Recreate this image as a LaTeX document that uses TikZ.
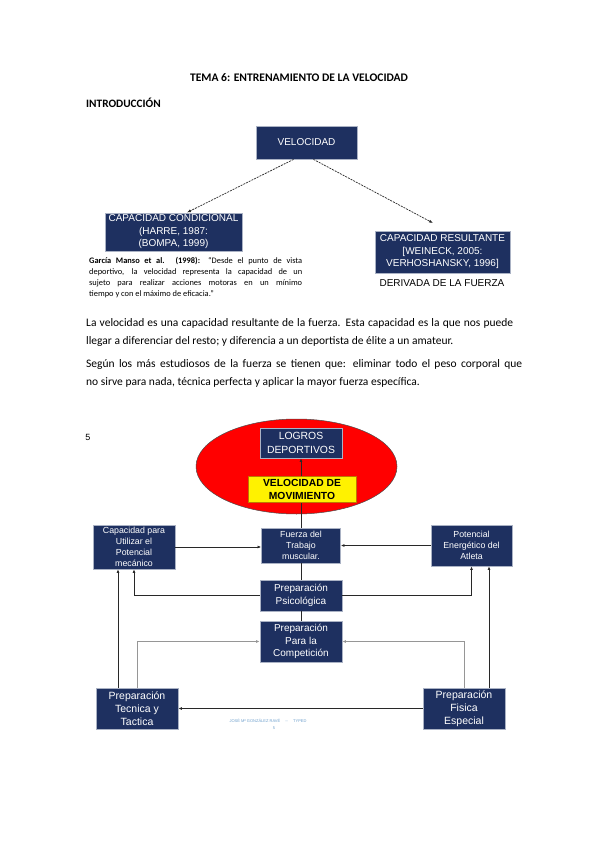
\documentclass[tikz,border=0pt]{standalone}
\usepackage{fontspec}
\setmainfont{Carlito}
\newfontfamily\arialf{Liberation Sans}
\usetikzlibrary{arrows.meta,calc,shapes.geometric}
\definecolor{navyc}{RGB}{30,48,96}
\definecolor{boxedge}{RGB}{170,178,196}
\definecolor{linec}{RGB}{40,40,40}
\definecolor{lightline}{RGB}{150,150,150}
\definecolor{footc}{RGB}{110,160,205}
\definecolor{yedge}{RGB}{190,120,0}
\tikzset{
  navy/.style={draw=boxedge, fill=navyc, text=white, align=center, inner sep=0pt, line width=0.8pt,
    font=\arialf\fontsize{10}{12.5}\selectfont},
  smallbox/.style={navy, font=\arialf\fontsize{8.8}{11}\selectfont},
  conn/.style={draw=linec, line width=0.9pt},
  arr/.style={conn, -{Latex[length=3.5pt,width=3pt]}},
  lightarr/.style={draw=lightline, line width=0.9pt, -{Latex[length=3.5pt,width=3pt]}},
  dasharr/.style={draw=linec, line width=0.7pt, dashed, dash pattern=on 2pt off 1pt, -{Latex[length=4pt,width=3pt]}},
  body/.style={anchor=west, inner sep=0pt, font=\fontsize{11.5}{13}\selectfont},
}
\begin{document}
\begin{tikzpicture}[x=1pt,y=-1pt]
\useasboundingbox[fill=white] (0,0) rectangle (599,848);

% heading
\node[inner sep=0pt, font=\bfseries\fontsize{11.6}{13}\selectfont] (title) at (299,78) {TEMA 6: ENTRENAMIENTO DE LA VELOCIDAD};
\node[anchor=west, inner sep=0pt, font=\bfseries\fontsize{11.3}{13}\selectfont] (intro) at (86,103) {INTRODUCCIÓN};

% top diagram
\node[navy, minimum width=101, minimum height=33] (vel) at (306.5,142.5) {VELOCIDAD};
\node[navy, minimum width=137, minimum height=38] (cond) at (173.5,232) {CAPACIDAD CONDICIONAL\\(HARRE, 1987:\\(BOMPA, 1999)};
\node[navy, minimum width=135, minimum height=42] (res) at (442.5,252) {CAPACIDAD RESULTANTE\\{[}WEINECK, 2005:\\VERHOSHANSKY, 1996{]}};
\node[inner sep=0pt, font=\arialf\fontsize{10}{12}\selectfont] (deriv) at (442,283) {DERIVADA DE LA FUERZA};
\coordinate (velL) at ($(vel.south)+(-13,0)$);
\coordinate (velR) at ($(vel.south)+(7,0)$);
\draw[dasharr] (velL) -- (187,212.5);
\draw[dasharr] (velR) -- (433,223);

\node[anchor=north west, inner sep=0pt, text width=213pt, align=justify, font=\fontsize{8.4}{11}\selectfont] (quote) at (89,257.5)
{\textbf{García Manso et al. (1998):} “Desde el punto de vista\linebreak deportivo, la velocidad representa la capacidad de un\linebreak sujeto para realizar acciones motoras en un mínimo\linebreak tiempo y con el máximo de eficacia.”};

% body text
\node[body] (p1) at (86,323) {\makebox[427pt][s]{La velocidad es una capacidad resultante de la fuerza. Esta capacidad es la que nos puede}};
\node[body] (p2) at (86,341) {llegar a diferenciar del resto; y diferencia a un deportista de élite a un amateur.};
\node[body] (p3) at (86,364) {\makebox[436pt][s]{Según los más estudiosos de la fuerza se tienen que: eliminar todo el peso corporal que}};
\node[body] (p4) at (86,382) {no sirve para nada, técnica perfecta y aplicar la mayor fuerza específica.};

% lower diagram
\node[inner sep=0pt, font=\arialf\fontsize{9}{11}\selectfont] (five) at (88,437) {5};
\node[draw=black!70, fill=red, ellipse, minimum width=201, minimum height=95, inner sep=0pt, line width=0.5pt] (ell) at (296.5,466.5) {};

\node[navy, font=\arialf\fontsize{10.4}{13.5}\selectfont, minimum width=82, minimum height=30] (logros) at (301,443) {LOGROS\\DEPORTIVOS};
\node[smallbox, minimum width=79, minimum height=35] (fuerza) at (301,545.5) {Fuerza del\\Trabajo\\muscular.};
\draw[arr] (fuerza) -- (logros);
\node[draw=yedge, fill=yellow, line width=0.8pt, inner sep=0pt, align=center, text=black,
  font=\arialf\bfseries\fontsize{10.3}{13}\selectfont, minimum width=108, minimum height=26] (mov) at (302,489) {VELOCIDAD DE\\MOVIMIENTO};

\node[smallbox, minimum width=82, minimum height=44] (cap) at (134,547) {Capacidad para\\Utilizar el\\Potencial\\mecánico};
\node[smallbox, minimum width=81, minimum height=41] (pot) at (471.5,545.5) {Potencial\\Energético del\\Atleta};
\node[navy, minimum width=82, minimum height=31] (psico) at (301,595.5) {Preparación\\Psicológica};
\node[navy, minimum width=82, minimum height=41] (comp) at (301,641.5) {Preparación\\Para la\\Competición};
\node[navy, font=\arialf\fontsize{10.5}{13}\selectfont, minimum width=82, minimum height=41] (tec) at (137,708.5) {Preparación\\Tecnica y\\Tactica};
\node[navy, font=\arialf\fontsize{10.5}{13}\selectfont, minimum width=82, minimum height=41] (fis) at (464,708.5) {Preparación\\Fisica\\Especial};

\draw[arr] (cap.east) -- (cap.east -| fuerza.west);
\draw[arr] (pot.west) -- (pot.west -| fuerza.east);
\draw[conn] (fuerza.south) -- (psico.north);
\draw[conn] (psico.south) -- (comp.north);
\draw[arr] (psico.west) -| (cap.south);
\draw[arr] (psico.east) -| (pot.south);
\coordinate (tecTop) at ($(tec.north)+(-19,0)$);
\coordinate (capIn) at ($(cap.south)+(-16,0)$);
\draw[arr] (tecTop) -- (tecTop |- capIn);
\coordinate (fisTop) at ($(fis.north)+(25,0)$);
\draw[arr] (fisTop) -- (fisTop |- pot.south);
\draw[lightarr] (tec.north) |- (comp.west);
\draw[lightarr] (fis.north) |- (comp.east);
\draw[arr] (fis.west) -- (tec.east);

% footer
\node[inner sep=0pt, text=footc, font=\arialf\fontsize{4}{5}\selectfont] (foot) at (268,721) {JOSÉ Mª GONZÁLEZ RAVÉ \quad -- \quad TYPED};
\node[inner sep=0pt, text=footc, font=\arialf\fontsize{4}{5}\selectfont] (foot2) at (274,728) {5};
\end{tikzpicture}
\end{document}
